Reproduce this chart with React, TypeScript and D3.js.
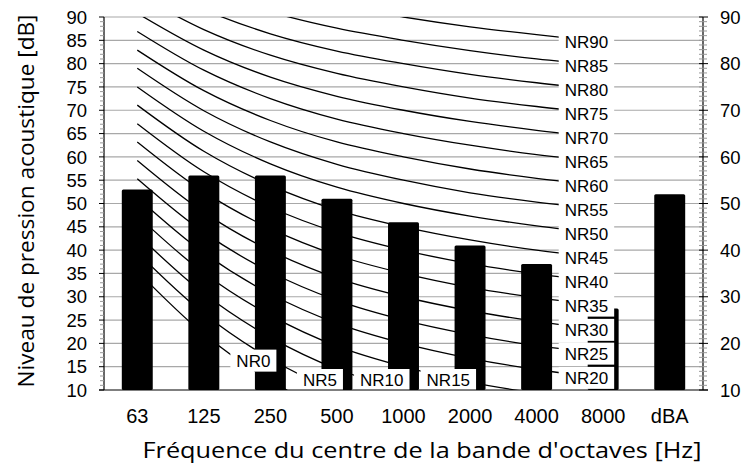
import React, { useEffect, useRef } from 'react'
import * as d3 from 'd3'

// octave bands shown on the x axis
const bands = ['63', '125', '250', '500', '1000', '2000', '4000', '8000', 'dBA']
// measured levels (dB)
const levels = [53, 56, 56, 51, 46, 41, 37, 27.5, 52]

// NR curves, values per octave band 63..8000 Hz
const curveBands = ['63', '125', '250', '500', '1000', '2000', '4000', '8000']
const nrLevels = [0, 5, 10, 15, 20, 25, 30, 35, 40, 45, 50, 55, 60, 65, 70, 75, 80, 85, 90]
const nrValues = [
  [35.5, 22.0, 12.0, 4.8, 0, -3.5, -6.1, -8.0],
  [39.5, 26.4, 16.7, 9.7, 5, 1.6, -1.0, -2.9],
  [43.4, 30.7, 21.3, 14.5, 10, 6.7, 4.2, 2.3],
  [47.4, 35.1, 26.0, 19.4, 15, 11.7, 9.3, 7.5],
  [51.3, 39.4, 30.6, 24.3, 20, 16.8, 14.4, 12.6],
  [55.3, 43.8, 35.3, 29.2, 25, 21.9, 19.5, 17.8],
  [59.2, 48.1, 39.9, 34.0, 30, 27.0, 24.7, 22.9],
  [63.2, 52.5, 44.6, 38.9, 35, 32.0, 29.8, 28.1],
  [67.1, 56.8, 49.2, 43.8, 40, 37.1, 34.9, 33.2],
  [71.1, 61.2, 53.9, 48.6, 45, 42.2, 40.0, 38.4],
  [75.0, 65.5, 58.5, 53.5, 50, 47.3, 45.2, 43.5],
  [79.0, 69.9, 63.2, 58.4, 55, 52.3, 50.3, 48.7],
  [82.9, 74.2, 67.8, 63.2, 60, 57.4, 55.4, 53.8],
  [86.9, 78.6, 72.5, 68.1, 65, 62.5, 60.5, 59.0],
  [90.8, 82.9, 77.1, 73.0, 70, 67.6, 65.7, 64.1],
  [94.8, 87.3, 81.8, 77.9, 75, 72.6, 70.8, 69.3],
  [98.7, 91.6, 86.4, 82.7, 80, 77.7, 75.9, 74.4],
  [102.7, 96.0, 91.1, 87.6, 85, 82.8, 81.0, 79.6],
  [106.6, 100.3, 95.7, 92.5, 90, 87.9, 86.2, 84.7],
]
// band where each NR label sits (the lowest curves leave the plot early)
const nrLabelBand = ['250', '500', '1000', '2000', '8000', '8000', '8000', '8000', '8000', '8000',
  '8000', '8000', '8000', '8000', '8000', '8000', '8000', '8000', '8000']
const nrLabelDbOverride: Record<number, number> = { 0: 16.3 }

const leftTicks = d3.range(10, 91, 5)
const rightTicks = d3.range(10, 91, 10)

const W = 747
const H = 465
const plot = { left: 104, right: 703, top: 17, bottom: 390 }

const App: React.FC = () => {
  const ref = useRef<SVGSVGElement | null>(null)

  useEffect(() => {
    if (!ref.current) return
    const svg = d3.select(ref.current)
    svg.selectAll('*').remove()

    const x = d3.scaleBand().domain(bands).range([plot.left, plot.right]).padding(0)
    const cx = (b: string) => x(b)! + x.bandwidth() / 2
    const y = d3.scaleLinear().domain([10, 90]).range([plot.bottom, plot.top])
    const barW = x.bandwidth() * 0.465

    svg.append('rect').attr('width', W).attr('height', H).attr('fill', '#fff')

    const defs = svg.append('defs')
    defs
      .append('clipPath')
      .attr('id', 'plotclip')
      .append('rect')
      .attr('x', plot.left)
      .attr('y', plot.top)
      .attr('width', plot.right - plot.left)
      .attr('height', plot.bottom - plot.top)

    // gridlines
    svg
      .append('g')
      .selectAll('line')
      .data(leftTicks.filter((t) => t > 10))
      .enter()
      .append('line')
      .attr('x1', plot.left)
      .attr('x2', plot.right)
      .attr('y1', (d) => y(d))
      .attr('y2', (d) => y(d))
      .attr('stroke', '#a8a8a8')
      .attr('stroke-width', 1.2)

    // NR curves
    const line = d3
      .line<number>()
      .x((_, i) => cx(curveBands[i]))
      .y((d) => y(d))
      .curve(d3.curveCatmullRom.alpha(0.5))
    svg
      .append('g')
      .attr('clip-path', 'url(#plotclip)')
      .selectAll('path')
      .data(nrValues)
      .enter()
      .append('path')
      .attr('d', (d) => line(d))
      .attr('fill', 'none')
      .attr('stroke', '#000')
      .attr('stroke-width', 1.3)

    // bars
    svg
      .append('g')
      .selectAll('rect')
      .data(levels)
      .enter()
      .append('rect')
      .attr('x', (_, i) => cx(bands[i]) - barW / 2)
      .attr('y', (d) => y(d))
      .attr('width', barW)
      .attr('height', (d) => y(10) - y(d))
      .attr('rx', 1.5)
      .attr('fill', '#000')

    // NR labels
    const lab = svg.append('g')
    nrLevels.forEach((nr, i) => {
      const band = nrLabelBand[i]
      const db = nrLabelDbOverride[nr] ?? nrValues[i][curveBands.indexOf(band)]
      const yc = Math.max(plot.top + 11, Math.min(plot.bottom - 10, y(db)))
      const xr = cx(band) + (band === '8000' ? 5 : 0)
      const t = lab
        .append('text')
        .attr('x', xr)
        .attr('y', yc)
        .attr('dy', '0.36em')
        .attr('text-anchor', 'end')
        .attr('font-family', "'Liberation Sans', Arial, sans-serif")
        .attr('font-size', 17)
        .attr('fill', '#000')
        .text(`NR${nr}`)
      const w = (t.node() as SVGTextElement).getComputedTextLength()
      lab
        .insert('rect', 'text')
        .attr('x', xr - w - 6)
        .attr('y', yc - 11)
        .attr('width', w + 12)
        .attr('height', 22)
        .attr('fill', '#fff')
    })
    // keep rects under their text
    lab.selectAll('text').raise()

    // axes lines
    const axes = svg.append('g').attr('stroke', '#000').attr('stroke-width', 1.2)
    axes.append('line').attr('x1', plot.left).attr('x2', plot.left).attr('y1', plot.top).attr('y2', plot.bottom)
    axes.append('line').attr('x1', plot.right).attr('x2', plot.right).attr('y1', plot.top).attr('y2', plot.bottom)
    axes.append('line').attr('x1', plot.left - 5).attr('x2', plot.right + 5).attr('y1', plot.bottom).attr('y2', plot.bottom)

    // minor ticks every dB
    const minor = d3.range(10, 91, 1)
    svg
      .append('g')
      .selectAll('line')
      .data(minor)
      .enter()
      .append('line')
      .attr('x1', (d) => (d % 5 === 0 ? plot.left - 5 : plot.left - 4))
      .attr('x2', plot.left)
      .attr('y1', (d) => y(d))
      .attr('y2', (d) => y(d))
      .attr('stroke', (d) => (d % 5 === 0 ? '#000' : '#999'))
      .attr('stroke-width', 1)
    svg
      .append('g')
      .selectAll('line')
      .data(minor)
      .enter()
      .append('line')
      .attr('x1', plot.right - 4)
      .attr('x2', (d) => (d % 10 === 0 ? plot.right + 5 : plot.right + 4))
      .attr('y1', (d) => y(d))
      .attr('y2', (d) => y(d))
      .attr('stroke', (d) => (d % 10 === 0 ? '#000' : '#999'))
      .attr('stroke-width', 1)

    // tick labels
    const tickFont = "'Liberation Sans', Arial, sans-serif"
    svg
      .append('g')
      .selectAll('text')
      .data(leftTicks)
      .enter()
      .append('text')
      .attr('x', 87)
      .attr('y', (d) => y(d))
      .attr('dy', '0.36em')
      .attr('text-anchor', 'end')
      .attr('font-family', tickFont)
      .attr('font-size', 18.5)
      .text((d) => d)
    svg
      .append('g')
      .selectAll('text')
      .data(rightTicks)
      .enter()
      .append('text')
      .attr('x', 720)
      .attr('y', (d) => y(d))
      .attr('dy', '0.36em')
      .attr('text-anchor', 'start')
      .attr('font-family', tickFont)
      .attr('font-size', 18.5)
      .text((d) => d)
    svg
      .append('g')
      .selectAll('text')
      .data(bands)
      .enter()
      .append('text')
      .attr('x', (d) => cx(d))
      .attr('y', 423)
      .attr('text-anchor', 'middle')
      .attr('font-family', tickFont)
      .attr('font-size', 20)
      .text((d) => d)

    // axis titles
    svg
      .append('text')
      .attr('x', 422)
      .attr('y', 458)
      .attr('text-anchor', 'middle')
      .attr('font-family', "'Open Sans', 'Noto Sans', sans-serif")
      .attr('font-size', 22)
      .attr('textLength', 559)
      .attr('lengthAdjust', 'spacingAndGlyphs')
      .text("Fréquence du centre de la bande d'octaves [Hz]")
    svg
      .append('text')
      .attr('transform', `translate(34,${201}) rotate(-90)`)
      .attr('text-anchor', 'middle')
      .attr('font-family', "'Open Sans', 'Noto Sans', sans-serif")
      .attr('font-size', 22)
      .attr('textLength', 373)
      .attr('lengthAdjust', 'spacingAndGlyphs')
      .text('Niveau de pression acoustique [dB]')
  }, [])

  return (
    <svg
      ref={ref}
      width={W}
      height={H}
      style={{ position: 'absolute', left: 0, top: 0 }}
    />
  )
}

export default App
